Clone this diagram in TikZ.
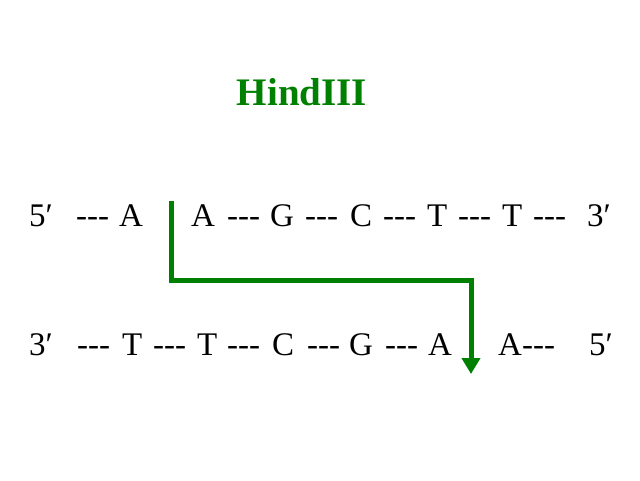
\documentclass[tikz,border=0pt]{standalone}
\usepackage{fontspec}
\setmainfont{Liberation Serif}[Ligatures=TeXOff]
\usetikzlibrary{arrows.meta}
\definecolor{cutgreen}{RGB}{0,128,0}

\begin{document}
\begin{tikzpicture}[x=1pt,y=-1pt,
	base/.style={anchor=base west,inner sep=0pt,font=\fontsize{33}{38}\selectfont},
	cut/.style={draw=cutgreen,line width=5pt,-{Triangle[width=18pt,length=16pt]}}]
				\useasboundingbox (0,0) rectangle (640,480);
				
				\node[anchor=base,inner sep=0pt,text=cutgreen,font=\fontsize{39}{44}\selectfont\bfseries] (enzyme) at (302,105) {HindIII};
				
				\foreach \x/\s [count=\i] in {29/5′,76/---,119/A,191/A,227/---,270/G,305/---,350/C,383/---,427/T,458/---,502/T,533/---,587/3′}
					\node[base] (top\i) at (\x,226) {\s};
				
				\foreach \x/\s [count=\i] in {29/3′,77/---,122/T,153/---,197/T,227/---,272/C,307/---,349/G,385/---,428/A,498/A---,589/5′}
					\node[base] (bot\i) at (\x,355) {\s};
				
				\coordinate (cuttop) at (171,201);
				\coordinate (cutmid) at (471,280);
				\coordinate (cutbot) at (471,374);
				\draw[cut] (cuttop) |- (cutmid) -- (cutbot);
			\end{tikzpicture}
\end{document}
